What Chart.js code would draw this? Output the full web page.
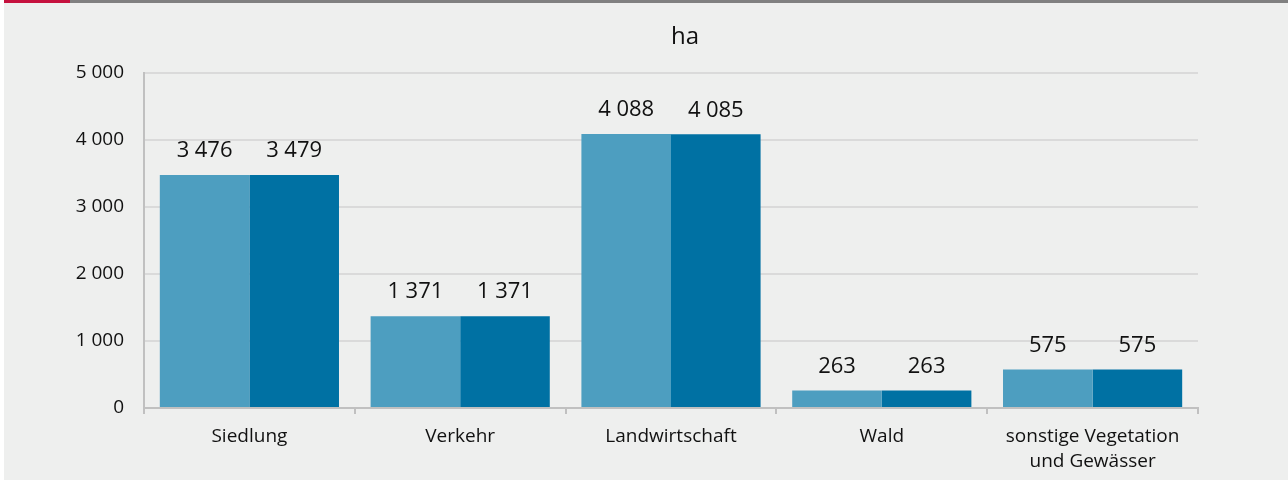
<!DOCTYPE html>
<html>
<head>
<meta charset="utf-8">
<script src="https://cdn.jsdelivr.net/npm/chart.js@4"></script>
<style>
  html, body { margin: 0; padding: 0; background: #ffffff; }
  #wrap { position: relative; width: 1288px; height: 480px; background: #eeefee; }
  #stripeGray { position: absolute; left: 0; top: 0; width: 1288px; height: 3px; background: #808080; }
  #stripeRed { position: absolute; left: 4px; top: 0; width: 66px; height: 3px; background: #c5113e; }
  #edge { position: absolute; left: 0; top: 0; width: 4px; height: 480px; background: #ffffff; }
  canvas { position: absolute; left: 0; top: 0; }
</style>
</head>
<body>
<div id="wrap">
  <canvas id="chart" width="1288" height="480"></canvas>
  <div id="stripeGray"></div>
  <div id="stripeRed"></div>
  <div id="edge"></div>
</div>
<script>
const categories = ['Siedlung', 'Verkehr', 'Landwirtschaft', 'Wald', ['sonstige Vegetation', 'und Gewässer']];
const seriesA = [3476, 1371, 4088, 263, 575];
const seriesB = [3479, 1371, 4085, 263, 575];
const seriesNames = ['Vorjahr', 'Berichtsjahr'];
const yTicks = [0, 1000, 2000, 3000, 4000, 5000];
const unitTitle = 'ha';

const fontFamily = '"Open Sans", "Noto Sans", sans-serif';
const textColor = '#111111';

// narrow space as thousands separator
function fmt(n) {
  return String(n).replace(/\B(?=(\d{3})+(?!\d))/g, '\u2005');
}

const valueLabels = {
  id: 'valueLabels',
  afterDatasetsDraw(chart) {
    const ctx = chart.ctx;
    ctx.save();
    ctx.font = '22px ' + fontFamily;
    ctx.fillStyle = textColor;
    ctx.textAlign = 'center';
    ctx.textBaseline = 'middle';
    chart.data.datasets.forEach((ds, i) => {
      chart.getDatasetMeta(i).data.forEach((bar, j) => {
        ctx.fillText(fmt(ds.data[j]), bar.x, bar.y - 24);
      });
    });
    // unit title, placed over the chart
    ctx.font = '24px ' + fontFamily;
    ctx.fillText(unitTitle, 685, 37);
    ctx.restore();
  }
};

new Chart(document.getElementById('chart'), {
  type: 'bar',
  data: {
    labels: categories,
    datasets: [{
      label: seriesNames[0],
      data: seriesA,
      backgroundColor: '#4d9ec0'
    }, {
      label: seriesNames[1],
      data: seriesB,
      backgroundColor: '#0071a3'
    }]
  },
  options: {
    responsive: false,
    animation: false,
    categoryPercentage: 0.85,
    barPercentage: 1.0,
    layout: { padding: { top: 73, right: 90, bottom: 0, left: 0 } },
    plugins: {
      legend: { display: false },
      tooltip: { enabled: false },
      title: { display: false }
    },
    scales: {
      x: {
        grid: { drawOnChartArea: false, drawTicks: true, tickLength: 6, color: '#c0c0c0', lineWidth: 2, offset: true },
        border: { display: true, color: '#c0c0c0', width: 2 },
        ticks: {
          color: textColor,
          padding: 11,
          maxRotation: 0,
          font: { family: fontFamily, size: 19, lineHeight: 1.27 }
        },
        afterFit(scale) { scale.height = 72; }
      },
      y: {
        min: 0,
        max: 5000,
        afterBuildTicks(scale) { scale.ticks = yTicks.map(v => ({ value: v })); },
        grid: { drawTicks: false, color: '#dadada', lineWidth: 2 },
        border: { display: true, color: '#c0c0c0', width: 2 },
        ticks: {
          color: textColor,
          padding: 20,
          font: { family: fontFamily, size: 19 },
          callback: (v) => fmt(v)
        },
        afterFit(scale) { scale.width = 144; }
      }
    }
  },
  plugins: [valueLabels]
});
</script>
</body>
</html>
